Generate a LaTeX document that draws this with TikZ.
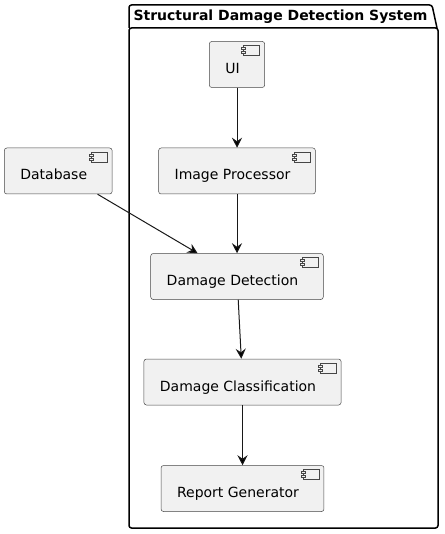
\documentclass[tikz,border=0pt]{standalone}
\usepackage{fontspec}
\setmainfont{DejaVu Sans}
\usetikzlibrary{positioning,arrows.meta}

\definecolor{compfill}{HTML}{F1F1F1}
\definecolor{compline}{HTML}{181818}

\begin{document}
\begin{tikzpicture}[->,
>={Stealth[length=10pt,width=10pt,inset=3.5pt]},
x=1pt, y=1pt,
line width=1pt,
font=\fontsize{14}{16}\selectfont,
block/.style={draw=compline!80, fill=compfill, rectangle, rounded corners=2.5pt, line width=0.5pt,
  minimum height=46pt, inner xsep=16pt, text height=20pt, text depth=2pt,
  execute at end node={\hspace*{9pt}},
  path picture={
    \draw[-, sharp corners, line width=0.4pt, draw=compline!80] ([shift={(-21pt,-4pt)}]path picture bounding box.north east) rectangle ++(16pt,-10pt);
    \draw[-, sharp corners, line width=0.4pt, draw=compline!80, fill=compfill] ([shift={(-23pt,-6pt)}]path picture bounding box.north east) rectangle ++(4pt,-2pt);
    \draw[-, sharp corners, line width=0.4pt, draw=compline!80, fill=compfill] ([shift={(-23pt,-10pt)}]path picture bounding box.north east) rectangle ++(4pt,-2pt);
  }}]

\useasboundingbox (0,0) rectangle (444,-534);

\draw[-, line width=1.5pt, rounded corners=2.5pt] (129,-28) rectangle (438,-528);
\draw[-, line width=1.5pt, rounded corners=2.5pt] (129,-28) |- (432,-5) -- (437,-28);
\node[anchor=base west, inner sep=0pt, font=\bfseries\fontsize{14}{16}\selectfont] (title) at (133,-20.5) {Structural Damage Detection System};

\node[block] (ui) at (237,-64.5) {UI};
\node[block, below=60pt of ui] (proc) {Image Processor};
\node[block, left=46pt of proc] (db) {Database};
\node[block, below=59pt of proc] (detect) {Damage Detection};
\node[block, below=59pt of detect, xshift=5.5pt] (classify) {Damage Classification};
\node[block, below=60pt of classify] (report) {Report Generator};

\path[->, draw=compline]
 (ui) edge (proc)
 (proc) edge (detect)
 (db) edge (detect)
 (detect) edge (classify)
 (classify) edge (report);

\end{tikzpicture}
\end{document}
